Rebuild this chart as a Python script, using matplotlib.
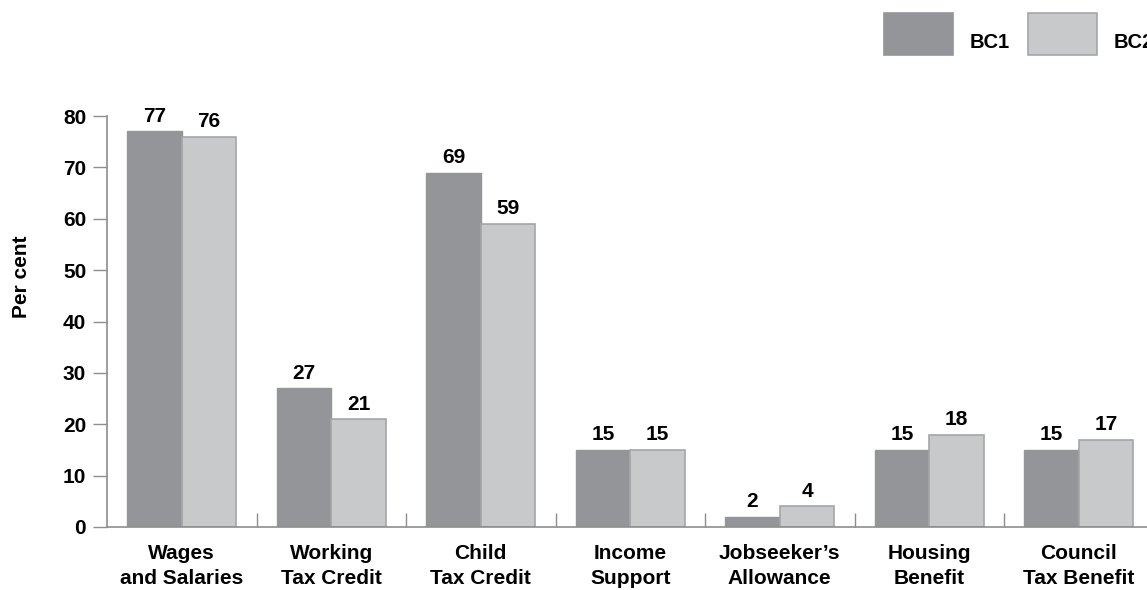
import matplotlib.pyplot as plt
from matplotlib.patches import Rectangle
import numpy as np

# data
categories = ["Wages\nand Salaries", "Working\nTax Credit", "Child\nTax Credit",
              "Income\nSupport", "Jobseeker\u2019s\nAllowance", "Housing\nBenefit",
              "Council\nTax Benefit"]
bc1 = [77, 27, 69, 15, 2, 15, 15]
bc2 = [76, 21, 59, 15, 4, 18, 17]
series_names = ["BC1", "BC2"]

dark = "#939598"
light = "#c8c9cb"
edge = "#a3a5a8"
axis_col = "#8e8e8e"

plt.rcParams['font.family'] = ['Liberation Sans', 'DejaVu Sans']
plt.rcParams['font.weight'] = 'bold'

W, H = 1147, 590
fig = plt.figure(figsize=(W / 100, H / 100), dpi=100)
ax = fig.add_axes([107 / W, 1 - 527 / H, (1153.5 - 107) / W, (527 - 116) / H])

x = np.arange(len(categories))
w = 0.365
b1 = ax.bar(x - w / 2, bc1, w, color=dark, edgecolor=dark, linewidth=1)
b2 = ax.bar(x + w / 2, bc2, w, color=light, edgecolor=edge, linewidth=1.2)

for bars, vals in ((b1, bc1), (b2, bc2)):
    for r, v in zip(bars, vals):
        ax.annotate(str(v), (r.get_x() + r.get_width() / 2, v),
                    xytext=(0, 4), textcoords="offset points",
                    ha="center", va="bottom", fontsize=15, fontweight="bold")

ax.set_xlim(-0.5, len(categories) - 0.5)
ax.set_ylim(0, 80)
ax.set_yticks(range(0, 81, 10))
ax.tick_params(axis="y", length=10, width=1, color=axis_col, labelsize=15, pad=5)

ax.set_xticks(x)
ax.set_xticklabels(categories, fontsize=15, fontweight="bold", linespacing=1.4)
ax.tick_params(axis="x", which="major", length=0, pad=12)
ax.set_xticks(np.arange(0.5, len(categories) - 1, 1), minor=True)
ax.tick_params(axis="x", which="minor", direction="in", length=10, width=1, color=axis_col)

for s in ("top", "right"):
    ax.spines[s].set_visible(False)
for s in ("left", "bottom"):
    ax.spines[s].set_color(axis_col)
    ax.spines[s].set_linewidth(1.2)

ax.set_ylabel("Per cent", fontsize=15, fontweight="bold")
ax.yaxis.set_label_coords(-0.0726, 0.608)

# legend
for (x0, col, ec, name) in ((884, dark, dark, series_names[0]), (1028, light, edge, series_names[1])):
    fig.add_artist(Rectangle((x0 / W, 1 - 55 / H), 69 / W, 42 / H,
                             transform=fig.transFigure, facecolor=col,
                             edgecolor=ec, linewidth=1.2))
    fig.text((x0 + 86) / W, 1 - 43 / H, name, fontsize=14.5, fontweight="bold",
             va="center", ha="left")

fig.savefig("out.png", dpi=100)
